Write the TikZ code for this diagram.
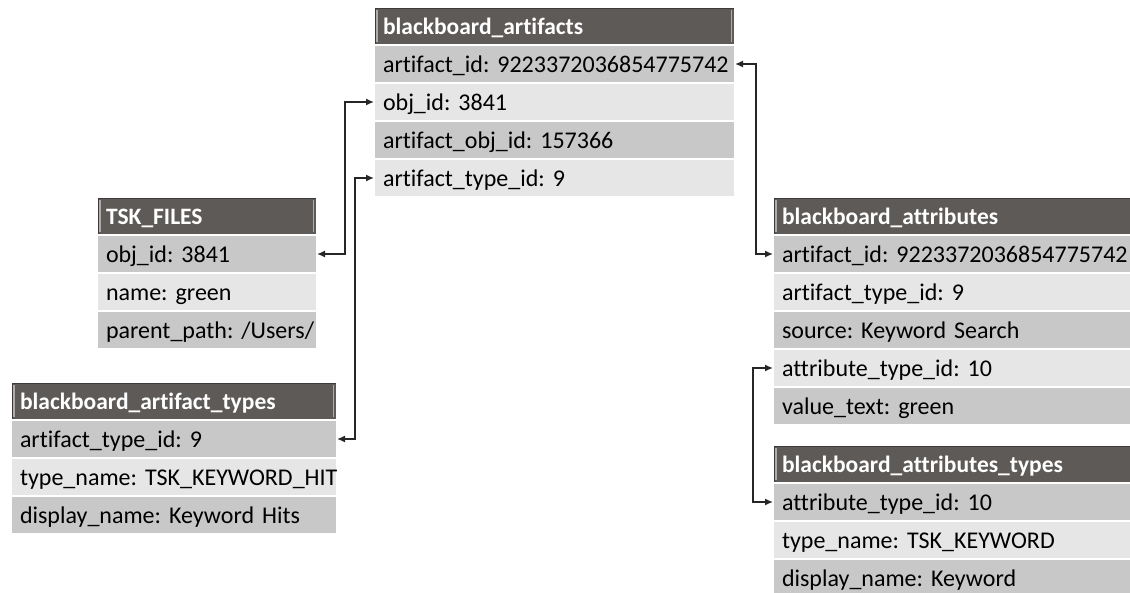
\documentclass[tikz,border=0pt]{standalone}
\usepackage{fontspec}
\setmainfont{Carlito}[Ligatures={NoCommon}]
\usetikzlibrary{arrows.meta}

\definecolor{rowdark}{RGB}{200,200,200}
\definecolor{rowlight}{RGB}{230,230,230}
\definecolor{hdrfill}{RGB}{94,90,88}
\definecolor{hdrrim}{RGB}{62,58,57}
\definecolor{hdrhi}{RGB}{176,172,170}

% one table row: the text is kept on a single line
\newcommand\cellline[1]{\mbox{#1}}

\tikzset{
  cell/.style={anchor=north west, inner xsep=9pt, inner ysep=0pt, outer sep=0pt,
    minimum height=38pt, text height=18pt, text depth=2pt, align=left,
    font=\fontsize{24}{28}\selectfont, draw=white, line width=1.2pt,
    execute at begin node={\frenchspacing}},
  drk/.style={cell, fill=rowdark},
  lgt/.style={cell, fill=rowlight},
  hdr/.style={cell, fill=hdrfill, text=white,
    font=\fontsize{23.5}{28}\selectfont\bfseries,
    path picture={
      \draw[hdrrim, line width=3pt]
        (path picture bounding box.north west) rectangle (path picture bounding box.south east);
      \draw[hdrhi, line width=1.5pt]
        ([shift={(3pt,-3pt)}]path picture bounding box.north west) --
        ([shift={(3pt,3pt)}]path picture bounding box.south west);
      \draw[hdrhi, line width=1.5pt]
        ([shift={(-3.5pt,-3pt)}]path picture bounding box.north east) --
        ([shift={(-3.5pt,3pt)}]path picture bounding box.south east);
    }},
  link/.style={draw=black!85, line width=1.5pt,
    {Latex[length=8pt,width=7pt]}-{Latex[length=8pt,width=7pt]}}
}

\begin{document}
\begin{tikzpicture}[x=1pt, y=1pt]
\clip (0,0) rectangle (1130,-592);

% blackboard_artifacts
\node[hdr, text width=343pt] (art) at (374,-7) {\cellline{blackboard\_artifacts}};
\node[drk, text width=343pt] (art1) at (art.south west) {\cellline{artifact\_id: 9223372036854775742}};
\node[lgt, text width=343pt] (art2) at (art1.south west) {\cellline{obj\_id: 3841}};
\node[drk, text width=343pt] (art3) at (art2.south west) {\cellline{artifact\_obj\_id: 157366}};
\node[lgt, text width=343pt] (art4) at (art3.south west) {\cellline{artifact\_type\_id: 9}};

% TSK_FILES
\node[hdr, text width=202pt] (tsk) at (97,-197) {\cellline{TSK\_FILES}};
\node[drk, text width=202pt] (tsk1) at (tsk.south west) {\cellline{obj\_id: 3841}};
\node[lgt, text width=202pt] (tsk2) at (tsk1.south west) {\cellline{name: green}};
\node[drk, text width=202pt] (tsk3) at (tsk2.south west) {\cellline{parent\_path: /Users/}};

% blackboard_artifact_types
\node[hdr, text width=308pt] (typ) at (11,-382) {\cellline{blackboard\_artifact\_types}};
\node[drk, text width=308pt] (typ1) at (typ.south west) {\cellline{artifact\_type\_id: 9}};
\node[lgt, text width=308pt] (typ2) at (typ1.south west) {\cellline{type\_name: TSK\_KEYWORD\_HIT}};
\node[drk, text width=308pt] (typ3) at (typ2.south west) {\cellline{display\_name: Keyword Hits}};

% blackboard_attributes
\node[hdr, text width=352pt] (att) at (773,-197) {\cellline{blackboard\_attributes}};
\node[drk, text width=352pt] (att1) at (att.south west) {\cellline{artifact\_id: 9223372036854775742}};
\node[lgt, text width=352pt] (att2) at (att1.south west) {\cellline{artifact\_type\_id: 9}};
\node[drk, text width=352pt] (att3) at (att2.south west) {\cellline{source: Keyword Search}};
\node[lgt, text width=352pt] (att4) at (att3.south west) {\cellline{attribute\_type\_id: 10}};
\node[drk, text width=352pt] (att5) at (att4.south west) {\cellline{value\_text: green}};

% blackboard_attributes_types
\node[hdr, text width=352pt] (aty) at (773,-445) {\cellline{blackboard\_attributes\_types}};
\node[drk, text width=352pt] (aty1) at (aty.south west) {\cellline{attribute\_type\_id: 10}};
\node[lgt, text width=352pt] (aty2) at (aty1.south west) {\cellline{type\_name: TSK\_KEYWORD}};
\node[drk, text width=352pt] (aty3) at (aty2.south west) {\cellline{display\_name: Keyword}};

% key links
\draw[link] (art2.west) -- ++(-29,0) |- (tsk1.east);
\draw[link] (art4.west) -- ++(-19,0) |- (typ1.east);
\draw[link] (art1.east) -- ++(21,0) |- (att1.west);
\draw[link] (att4.west) -- ++(-20,0) |- (aty1.west);
\end{tikzpicture}
\end{document}
